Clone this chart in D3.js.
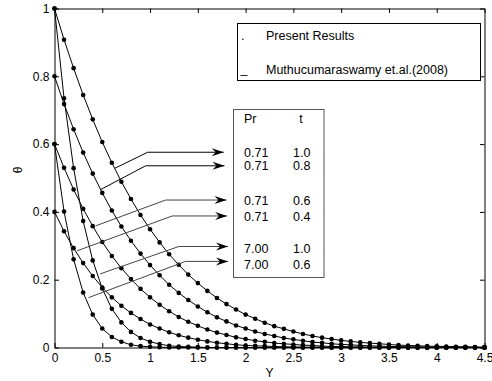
<!DOCTYPE html>
<meta charset="utf-8">
<script src="https://d3js.org/d3.v7.min.js"></script>
<style>
  body { margin: 0; background: #fff; }
  text { font-family: "Liberation Sans", Arial, sans-serif; }
</style>
<div id="chart"></div>
<script>
// Y positions of the computed points
var yPos = [0, 0.1, 0.2, 0.3, 0.4, 0.5, 0.6, 0.7, 0.8, 0.9,
            1.0, 1.1, 1.2, 1.3, 1.4, 1.5, 1.6, 1.7, 1.8, 1.9,
            2.0, 2.1, 2.2, 2.3, 2.4, 2.5, 2.6, 2.7, 2.8, 2.9,
            3.0, 3.1, 3.2, 3.3, 3.4, 3.5, 3.6, 3.7, 3.8, 3.9,
            4.0, 4.1, 4.2, 4.3, 4.4, 4.5];

// theta profiles, Pr / t
var theta_071_10 = [1.000, 0.908, 0.824, 0.745, 0.673, 0.606, 0.545, 0.489, 0.438, 0.391,
                    0.349, 0.310, 0.275, 0.244, 0.215, 0.190, 0.167, 0.146, 0.128, 0.112,
                    0.097, 0.085, 0.073, 0.063, 0.055, 0.047, 0.040, 0.034, 0.029, 0.025,
                    0.021, 0.018, 0.015, 0.013, 0.011, 0.009, 0.007, 0.006, 0.005, 0.004,
                    0.0035, 0.003, 0.0024, 0.002, 0.0016, 0.0013];
var theta_071_08 = [0.800, 0.718, 0.644, 0.575, 0.513, 0.456, 0.404, 0.357, 0.315, 0.277,
                    0.243, 0.213, 0.185, 0.161, 0.140, 0.121, 0.104, 0.089, 0.077, 0.065,
                    0.056, 0.047, 0.040, 0.034, 0.028, 0.024, 0.020, 0.016, 0.014, 0.011,
                    0.009, 0.008, 0.006, 0.005, 0.004, 0.003, 0.003, 0.002, 0.002, 0.001,
                    0.001, 0.001, 0.001, 0.001, 0.000, 0.000];
var theta_071_06 = [0.600, 0.530, 0.466, 0.409, 0.358, 0.311, 0.270, 0.234, 0.202, 0.173,
                    0.148, 0.126, 0.107, 0.090, 0.076, 0.064, 0.053, 0.044, 0.037, 0.030,
                    0.025, 0.020, 0.017, 0.013, 0.011, 0.009, 0.007, 0.006, 0.004, 0.003,
                    0.003, 0.002, 0.002, 0.001, 0.001, 0.001, 0.001, 0.000, 0.000, 0.000,
                    0.000, 0.000, 0.000, 0.000, 0.000, 0.000];
var theta_071_04 = [0.400, 0.343, 0.293, 0.249, 0.211, 0.177, 0.148, 0.123, 0.102, 0.084,
                    0.068, 0.056, 0.045, 0.036, 0.029, 0.023, 0.018, 0.014, 0.011, 0.008,
                    0.006, 0.005, 0.004, 0.003, 0.002, 0.002, 0.001, 0.001, 0.001, 0.000,
                    0.000, 0.000, 0.000, 0.000, 0.000, 0.000, 0.000, 0.000, 0.000, 0.000,
                    0.000, 0.000, 0.000, 0.000, 0.000, 0.000];
var theta_700_10 = [1.000, 0.735, 0.529, 0.373, 0.257, 0.174, 0.114, 0.074, 0.046, 0.028,
                    0.017, 0.010, 0.005, 0.003, 0.002, 0.001, 0.000, 0.000, 0.000, 0.000,
                    0.000, 0.000, 0.000, 0.000, 0.000, 0.000, 0.000, 0.000, 0.000, 0.000,
                    0.000, 0.000, 0.000, 0.000, 0.000, 0.000, 0.000, 0.000, 0.000, 0.000,
                    0.000, 0.000, 0.000, 0.000, 0.000, 0.000];
var theta_700_06 = [0.600, 0.401, 0.260, 0.162, 0.097, 0.056, 0.031, 0.017, 0.008, 0.004,
                    0.002, 0.001, 0.000, 0.000, 0.000, 0.000, 0.000, 0.000, 0.000, 0.000,
                    0.000, 0.000, 0.000, 0.000, 0.000, 0.000, 0.000, 0.000, 0.000, 0.000,
                    0.000, 0.000, 0.000, 0.000, 0.000, 0.000, 0.000, 0.000, 0.000, 0.000,
                    0.000, 0.000, 0.000, 0.000, 0.000, 0.000];

var series = [theta_071_10, theta_071_08, theta_071_06, theta_071_04, theta_700_10, theta_700_06];

// table of parameters
var prLabels = ["0.71", "0.71", "0.71", "0.71", "7.00", "7.00"];
var tLabels = ["1.0", "0.8", "0.6", "0.4", "1.0", "0.6"];

// ticks
var xTicks = [0, 0.5, 1, 1.5, 2, 2.5, 3, 3.5, 4, 4.5];
var yTicks = [0, 0.2, 0.4, 0.6, 0.8, 1];

// arrows (start, bend, tip) in data units
var arrows = [
  [[0.634, 0.529], [0.975, 0.576], [1.771, 0.576]],
  [[0.477, 0.465], [0.954, 0.536], [1.779, 0.536]],
  [[0.432, 0.359], [1.163, 0.435], [1.800, 0.435]],
  [[0.234, 0.285], [1.232, 0.388], [1.806, 0.388]],
  [[0.477, 0.217], [1.302, 0.298], [1.816, 0.298]],
  [[0.355, 0.147], [1.372, 0.254], [1.816, 0.254]]
];

var svg = d3.select("#chart").append("svg")
    .attr("width", 492)
    .attr("height", 381);

var x = d3.scaleLinear().domain([0, 4.5]).range([54.5, 484.5]);
var y = d3.scaleLinear().domain([0, 1]).range([347.5, 8.5]);

var font = "'Liberation Sans', Arial, sans-serif";

// axes, ticks inside like matlab
svg.append("g")
    .attr("transform", "translate(0,347.5)")
    .call(d3.axisBottom(x).tickValues(xTicks).tickSizeInner(-4.5).tickSizeOuter(0)
      .tickPadding(6).tickFormat(d3.format("~g")))
    .attr("font-size", 12).attr("font-family", font);

svg.append("g")
    .attr("transform", "translate(54.5,0)")
    .call(d3.axisLeft(y).tickValues(yTicks).tickSizeInner(-4.5).tickSizeOuter(0)
      .tickPadding(5).tickFormat(d3.format("~g")))
    .attr("font-size", 12).attr("font-family", font);

svg.append("g")
    .attr("transform", "translate(0,8.5)")
    .call(d3.axisTop(x).tickValues(xTicks).tickSizeInner(-4.5).tickSizeOuter(0).tickFormat(""));

svg.append("g")
    .attr("transform", "translate(484.5,0)")
    .call(d3.axisRight(y).tickValues(yTicks).tickSizeInner(-4.5).tickSizeOuter(0).tickFormat(""));

svg.selectAll(".domain, .tick line").attr("stroke", "#000");
svg.selectAll(".tick text").attr("fill", "#000");

// axis labels
svg.append("text")
    .attr("x", 269.5).attr("y", 377)
    .attr("text-anchor", "middle")
    .attr("font-size", 12)
    .text("Y");

svg.append("text")
    .attr("transform", "translate(22,170) rotate(-90)")
    .attr("text-anchor", "middle")
    .attr("font-size", 12)
    .text("θ");

// curves
var line = d3.line()
    .x(function(d, i) { return x(yPos[i]); })
    .y(function(d) { return y(d); });

svg.selectAll(".curve")
    .data(series)
  .enter().append("path")
    .attr("class", "curve")
    .attr("d", line)
    .attr("fill", "none")
    .attr("stroke", "#000")
    .attr("stroke-width", 1);

series.forEach(function(s) {
  svg.append("g").selectAll("circle")
      .data(s)
    .enter().append("circle")
      .attr("cx", function(d, i) { return x(yPos[i]); })
      .attr("cy", function(d) { return y(d); })
      .attr("r", 2.3)
      .attr("fill", "#000");
});

// arrows
arrows.forEach(function(a, i) {
  var col = i < 2 ? "#000" : "#444";
  svg.append("path")
      .attr("d", d3.line().x(function(p) { return x(p[0]); }).y(function(p) { return y(p[1]); })(a))
      .attr("fill", "none")
      .attr("stroke", col)
      .attr("stroke-width", 1);
  var tip = a[2];
  svg.append("path")
      .attr("transform", "translate(" + x(tip[0]) + "," + y(tip[1]) + ")")
      .attr("d", "M0,0L-12,-4L-8,0L-12,4Z")
      .attr("fill", "#000");
});

// legend box
svg.append("rect")
    .attr("x", 237.5).attr("y", 23.5)
    .attr("width", 243).attr("height", 57)
    .attr("fill", "#fff").attr("stroke", "#000");

svg.append("text").attr("x", 241).attr("y", 40).attr("font-size", 12.5).text(".");
svg.append("text").attr("x", 266).attr("y", 39.5).attr("font-size", 12.5).text("Present Results");
svg.append("text").attr("x", 240.5).attr("y", 73).attr("font-size", 12.5)
    .attr("textLength", 7).attr("lengthAdjust", "spacingAndGlyphs").text("__");
svg.append("text").attr("x", 266).attr("y", 73.5).attr("font-size", 12.5).text("Muthucumaraswamy et.al.(2008)");

// parameter table
svg.append("rect")
    .attr("x", 233.5).attr("y", 109.5)
    .attr("width", 90.5).attr("height", 168)
    .attr("fill", "#fff").attr("stroke", "#555");

svg.append("text").attr("x", 244).attr("y", 122.5).attr("font-size", 12.5).text("Pr");
svg.append("text").attr("x", 301).attr("y", 122.5).attr("font-size", 12.5)
    .attr("text-anchor", "middle").text("t");

var rowBase = [156.7, 169.5, 205, 221, 252.5, 268.5];
prLabels.forEach(function(p, i) {
  svg.append("text").attr("x", 244).attr("y", rowBase[i]).attr("font-size", 12.5).text(p);
  svg.append("text").attr("x", 293).attr("y", rowBase[i]).attr("font-size", 12.5).text(tLabels[i]);
});
</script>
